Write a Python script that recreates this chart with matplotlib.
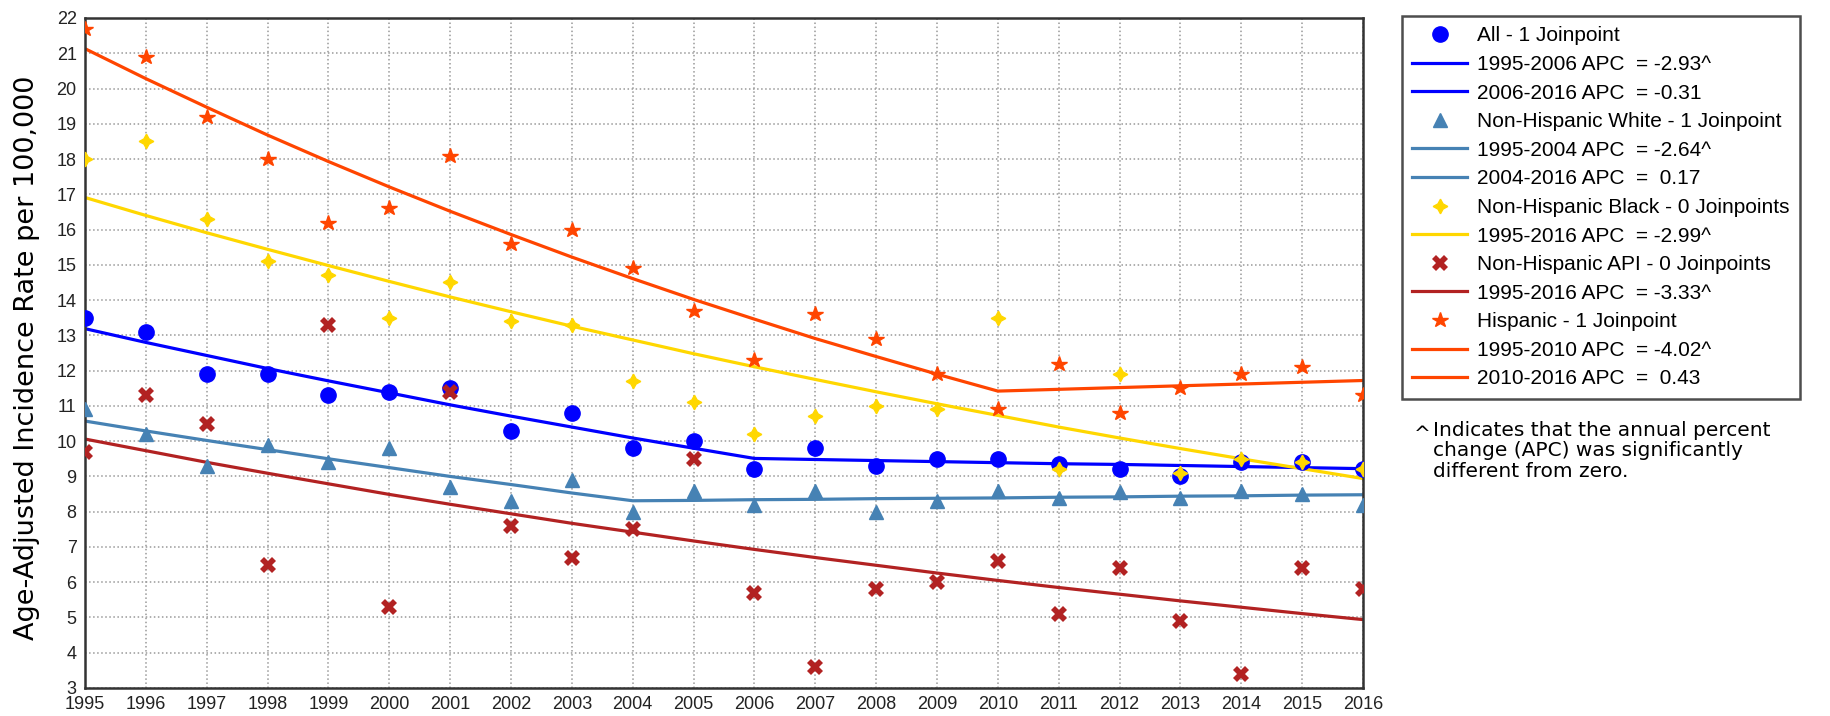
import matplotlib
matplotlib.use("Agg")
import matplotlib.pyplot as plt
from matplotlib.lines import Line2D

years = list(range(1995, 2017))

# observed rates
all_obs = [13.5, 13.1, 11.9, 11.9, 11.3, 11.4, 11.5, 10.3, 10.8, 9.8, 10.0,
           9.2, 9.8, 9.3, 9.5, 9.5, 9.35, 9.2, 9.0, 9.4, 9.4, 9.2]
nhw_obs = [10.9, 10.2, 9.3, 9.9, 9.4, 9.8, 8.7, 8.3, 8.9, 8.0, 8.6,
           8.2, 8.6, 8.0, 8.3, 8.6, 8.4, 8.55, 8.4, 8.6, 8.5, 8.2]
nhb_obs = [18.0, 18.5, 16.3, 15.1, 14.7, 13.5, 14.5, 13.4, 13.3, 11.7, 11.1,
           10.2, 10.7, 11.0, 10.9, 13.5, 9.2, 11.9, 9.1, 9.5, 9.4, 9.2]
api_obs = [9.7, 11.3, 10.5, 6.5, 13.3, 5.3, 11.4, 7.6, 6.7, 7.5, 9.5,
           5.7, 3.6, 5.8, 6.0, 6.6, 5.1, 6.4, 4.9, 3.4, 6.4, 5.8]
his_obs = [21.7, 20.9, 19.2, 18.0, 16.2, 16.6, 18.1, 15.6, 16.0, 14.9, 13.7,
           12.3, 13.6, 12.9, 11.9, 10.9, 12.2, 10.8, 11.5, 11.9, 12.1, 11.3]

# modeled (joinpoint) rates
all_fit = [13.19, 12.80, 12.43, 12.06, 11.71, 11.37, 11.03, 10.71, 10.40, 10.09, 9.80,
           9.51, 9.48, 9.45, 9.42, 9.39, 9.36, 9.34, 9.31, 9.28, 9.25, 9.22]
nhw_fit = [10.57, 10.29, 10.02, 9.76, 9.50, 9.25, 9.00, 8.77, 8.53, 8.31, 8.32,
           8.34, 8.35, 8.37, 8.38, 8.39, 8.41, 8.42, 8.44, 8.45, 8.47, 8.48]
nhb_fit = [16.91, 16.40, 15.91, 15.44, 14.98, 14.53, 14.09, 13.67, 13.26, 12.87, 12.48,
           12.11, 11.75, 11.40, 11.06, 10.73, 10.40, 10.09, 9.79, 9.50, 9.22, 8.94]
api_fit = [10.06, 9.73, 9.40, 9.09, 8.79, 8.49, 8.21, 7.94, 7.67, 7.42, 7.17,
           6.93, 6.70, 6.48, 6.26, 6.05, 5.85, 5.66, 5.47, 5.29, 5.11, 4.94]
his_fit = [21.13, 20.28, 19.47, 18.68, 17.93, 17.21, 16.52, 15.86, 15.22, 14.61, 14.02,
           13.46, 12.91, 12.40, 11.90, 11.42, 11.47, 11.52, 11.57, 11.62, 11.67, 11.72]

labels = ["All - 1 Joinpoint", "1995-2006 APC  = -2.93^", "2006-2016 APC  = -0.31",
          "Non-Hispanic White - 1 Joinpoint", "1995-2004 APC  = -2.64^", "2004-2016 APC  =  0.17",
          "Non-Hispanic Black - 0 Joinpoints", "1995-2016 APC  = -2.99^",
          "Non-Hispanic API - 0 Joinpoints", "1995-2016 APC  = -3.33^",
          "Hispanic - 1 Joinpoint", "1995-2010 APC  = -4.02^", "2010-2016 APC  =  0.43"]

c_all, c_nhw, c_nhb, c_api, c_his = "#0000ff", "#4682b4", "#ffd700", "#b22222", "#ff4500"
narrow = ["Liberation Sans Narrow", "Liberation Sans", "DejaVu Sans"]

fig = plt.figure(figsize=(18.31, 7.16), dpi=100)
ax = fig.add_axes([85 / 1831, 28 / 716, 1278 / 1831, 670 / 716])

lw = 2.3
for fit, c in [(all_fit, c_all), (nhw_fit, c_nhw), (nhb_fit, c_nhb), (api_fit, c_api), (his_fit, c_his)]:
    ax.plot(years, fit, color=c, lw=lw, zorder=2)

star4 = (4, 1, 0)
ax.plot(years, all_obs, "o", color=c_all, ms=11, zorder=3)
ax.plot(years, nhw_obs, "^", color=c_nhw, ms=10, zorder=3)
ax.plot(years, nhb_obs, marker=star4, ls="none", color=c_nhb, ms=10.5, zorder=3)
ax.plot(years, api_obs, "X", color=c_api, ms=12, mew=0, zorder=3)
ax.plot(years, his_obs, "*", color=c_his, ms=11.5, zorder=3)

ax.set_xlim(1995, 2016)
ax.set_ylim(3, 22)
ax.set_xticks(years)
ax.set_yticks(range(3, 23))
ax.grid(True, ls=":", color="#999999", lw=1.1)
ax.tick_params(length=0, pad=6)
for t in ax.get_xticklabels() + ax.get_yticklabels():
    t.set_family(narrow)
    t.set_fontsize(13)
    t.set_color("#222222")
for s in ax.spines.values():
    s.set_color("#333333")
    s.set_linewidth(1.8)

fig.text(27 / 1831, 0.5, "Age-Adjusted Incidence Rate per 100,000", rotation=90,
         ha="center", va="center", fontsize=19.5, family="DejaVu Sans")

# legend
handles = [
    Line2D([], [], marker="o", color=c_all, ls="none", ms=11),
    Line2D([], [], color=c_all, lw=lw), Line2D([], [], color=c_all, lw=lw),
    Line2D([], [], marker="^", color=c_nhw, ls="none", ms=10),
    Line2D([], [], color=c_nhw, lw=lw), Line2D([], [], color=c_nhw, lw=lw),
    Line2D([], [], marker=star4, color=c_nhb, ls="none", ms=10.5),
    Line2D([], [], color=c_nhb, lw=lw),
    Line2D([], [], marker="X", color=c_api, ls="none", ms=12, mew=0),
    Line2D([], [], color=c_api, lw=lw),
    Line2D([], [], marker="*", color=c_his, ls="none", ms=11.5),
    Line2D([], [], color=c_his, lw=lw), Line2D([], [], color=c_his, lw=lw),
]
leg = fig.legend(handles, labels, loc="upper left",
                 bbox_to_anchor=(1402 / 1831, 1 - 16 / 716), borderaxespad=0,
                 frameon=True, fancybox=False, edgecolor="#222222",
                 prop={"family": narrow, "size": 15},
                 handlelength=2.6, handletextpad=0.5, labelspacing=0.46,
                 borderpad=0.5)
leg.get_frame().set_linewidth(1.8)

fig.text(1414 / 1831, 1 - 434 / 716, "^", fontsize=14.5, va="center", family="DejaVu Sans")
fig.text(1433 / 1831, 1 - 421 / 716,
         "Indicates that the annual percent\nchange (APC) was significantly\ndifferent from zero.",
         fontsize=14.5, va="top", family="DejaVu Sans", linespacing=1.1)

fig.savefig("out.png", dpi=100)
